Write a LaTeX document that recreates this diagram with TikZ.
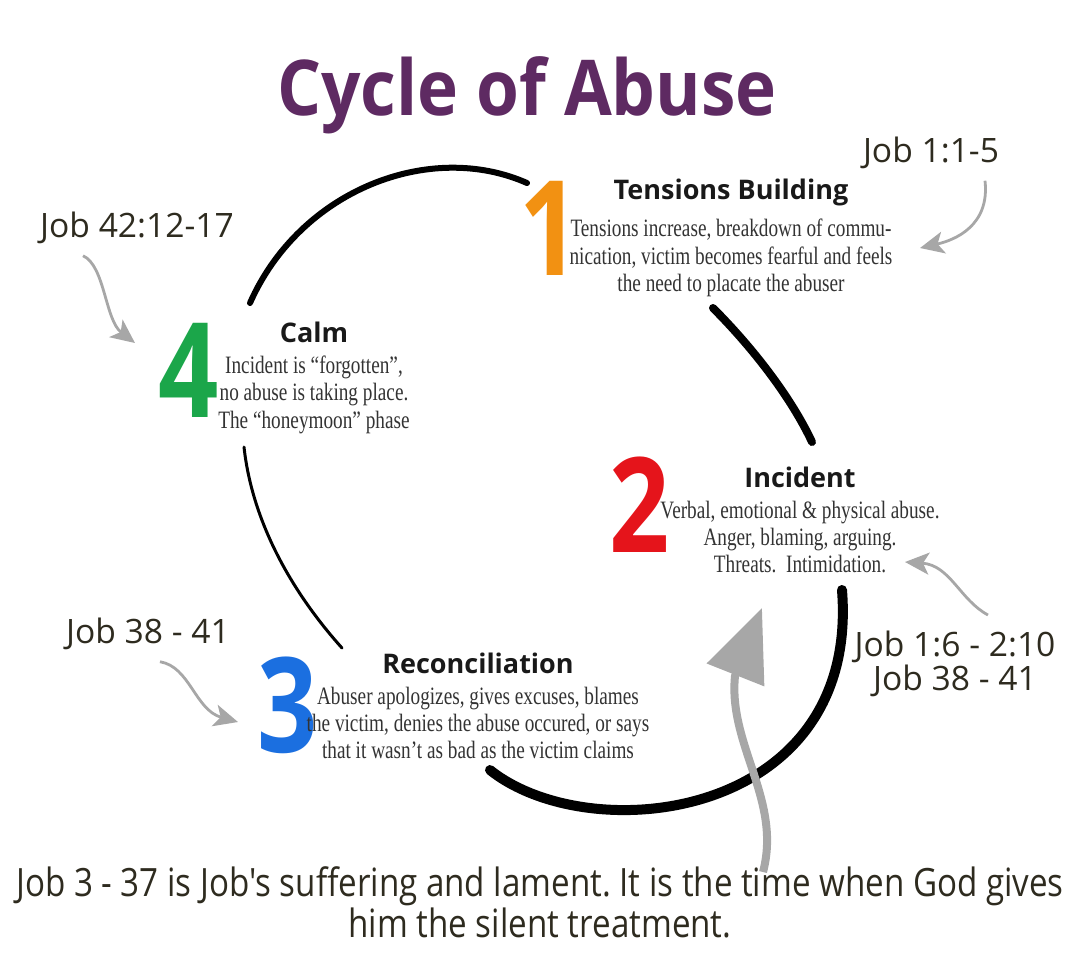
\documentclass[tikz,border=0pt]{standalone}
\usepackage{fontspec}
\setmainfont{Liberation Serif}
\newfontfamily\headfont{Open Sans}
\newfontfamily\titlefont[FakeStretch=0.9]{Open Sans}
\newfontfamily\digitfont[FakeStretch=0.8]{Open Sans}
\newfontfamily\bodyfont[FakeStretch=0.77]{Liberation Serif}
\newfontfamily\notefont{Open Sans}
\newfontfamily\bottomfont[FakeStretch=0.85]{Open Sans}
\usepackage{xcolor}
\usetikzlibrary{arrows.meta, positioning}
\frenchspacing

\definecolor{titlepurple}{HTML}{5E2A62}
\definecolor{stageorange}{HTML}{F29112}
\definecolor{stagered}{HTML}{E5141B}
\definecolor{stageblue}{HTML}{1B6FE0}
\definecolor{stagegreen}{HTML}{1BA64A}
\definecolor{notebrown}{HTML}{2E2B1F}
\definecolor{arrowgray}{HTML}{A7A7A7}

\begin{document}
\begin{tikzpicture}[
  x=0.5pt, y=-0.5pt,
  digit/.style={anchor=base, inner sep=0pt, font=\digitfont\bfseries\fontsize{66}{66}\selectfont},
  headtxt/.style={anchor=base, inner sep=0pt, text=black!90, font=\headfont\bfseries\fontsize{13.5}{15}\selectfont},
  bodytxt/.style={inner sep=0pt, align=center, text=black!80, font=\bodyfont\fontsize{12.5}{13.6}\selectfont},
  jobtxt/.style={anchor=base, inner sep=0pt, align=center, text=notebrown, font=\notefont\fontsize{16.8}{15}\selectfont},
  cyc/.style={line width=3pt, line cap=round, black},
  notearrow/.style={draw=arrowgray, line width=1.4pt, -{Stealth[length=12pt, width=11pt, inset=3pt]}},
  bigarrow/.style={draw=arrowgray, line width=4pt, -{Triangle[length=36pt, width=30pt]}}
]
\useasboundingbox (0,0) rectangle (1080,976);

\node[anchor=base, inner sep=0pt, text=titlepurple, font=\titlefont\bfseries\fontsize{38.5}{40}\selectfont] (title) at (527,115) {Cycle of Abuse};

% stage 1
\node[digit, text=stageorange] (one) at (550,275) {1};
\node[headtxt] (tension) at (731,199) {Tensions Building};
\node[bodytxt, below=6.5pt of tension] (tensiontxt) {Tensions increase, breakdown of commu-\\
  nication, victim becomes fearful and feels\\ the need to placate the abuser};

% stage 2
\node[digit, text=stagered] (two) at (640,552) {2};
\node[headtxt] (incident) at (800,487) {Incident};
\node[bodytxt, below=6.5pt of incident] (incidenttxt) {Verbal, emotional \& physical abuse.\\
  Anger, blaming, arguing.\\ Threats.\ \ Intimidation.};

% stage 3
\node[digit, text=stageblue] (three) at (288,752) {3};
\node[headtxt] (reconcile) at (478,673) {Reconciliation};
\node[bodytxt, below=6.5pt of reconcile] (reconciletxt) {Abuser apologizes, gives excuses, blames\\
  the victim, denies the abuse occured, or says\\ that it wasn’t as bad as the victim claims};

% stage 4
\node[digit, text=stagegreen] (four) at (189,417) {4};
\node[headtxt] (calm) at (314,342) {Calm};
\node[bodytxt, below=6.5pt of calm] (calmtxt) {Incident is “forgotten”,\\
  no abuse is taking place.\\ The “honeymoon” phase};

% the cycle
\draw[cyc] (250,303) .. controls (300,190) and (430,140) .. (527,183);
\draw[cyc, line width=4pt] (713,308) .. controls (750,345) and (790,395) .. (812,442);
\draw[cyc, line width=1.5pt] (244,447) .. controls (252,520) and (290,590) .. (342,648);
\draw[cyc, line width=5pt] (490,770) .. controls (590,850) and (860,820) .. (842,590);

% Job references
\node[jobtxt] (jobA) at (931,162) {Job 1:1-5};
\node[jobtxt] (jobB) at (137,237) {Job 42:12-17};
\node[jobtxt] (jobC) at (148,643) {Job 38 - 41};
\node[jobtxt] (jobD) at (955,690) {Job 1:6 - 2:10\\Job 38 - 41};
\node[anchor=base, inner sep=0pt, align=center, text=notebrown, font=\bottomfont\fontsize{19.5}{14.5}\selectfont] (note) at (540,937)
  {Job 3 - 37 is Job's suffering and lament. It is the time when God gives\\him the silent treatment.};

\coordinate (a1) at (920,248);
\coordinate (a2) at (135,343);
\coordinate (a3) at (238,722);
\coordinate (a4) at (905,562);
\coordinate (a5) at (763,872);

\draw[notearrow] (jobA.south -| 985,0) ++(0,12) .. controls +(5,45) and +(35,-8) .. (a1);
\draw[notearrow] (jobB.south -| 83,0) ++(0,12) .. controls +(22,10) and +(-30,-23) .. (a2);
\draw[notearrow] (jobC.south -| 160,0) ++(0,12) .. controls +(30,5) and +(-43,-12) .. (a3);
\draw[notearrow] (988,615) .. controls (960,600) and (950,565) .. (a4);
\draw[bigarrow] (a5) .. controls (782,800) and (728,745) .. (735,676) -- (762,608);
\end{tikzpicture}
\end{document}
